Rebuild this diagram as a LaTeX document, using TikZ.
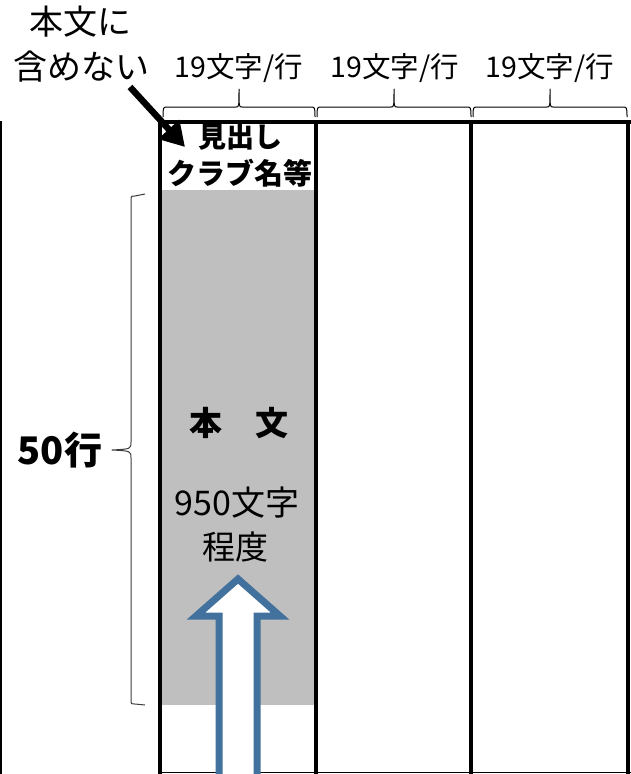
\documentclass[tikz,border=0pt]{standalone}
\usepackage{fontspec}
\setmainfont{Noto Sans CJK JP}
\usetikzlibrary{arrows.meta}
\definecolor{panelgray}{RGB}{191,191,191}
\definecolor{arrowblue}{RGB}{65,113,156}
\definecolor{bracegray}{RGB}{60,60,60}
\tikzset{
  lbl/.style={inner sep=0pt, anchor=center, font=\fontsize{#1}{#1}\selectfont},
  blbl/.style={inner sep=0pt, anchor=center, font=\fontsize{#1}{#1}\selectfont\bfseries},
  colline/.style={line width=4pt},
  thinline/.style={line width=1.5pt},
  bracepath/.style={line width=1pt, line join=round},
  pointer/.style={line width=6.5pt, -{Triangle[length=24pt,width=27pt]}},
  bigarrow/.style={draw=arrowblue, fill=white, line width=7pt, line join=miter}
}
\begin{document}
\begin{tikzpicture}[x=1pt,y=-1pt]
\useasboundingbox (0,0) rectangle (631,774);
% gray body region
\fill[panelgray] (160,190) rectangle (316,705);
% frame lines
\draw[thinline] (1,121) -- (1,776);
\draw[thinline] (160,772.5) -- (633,772.5);
\draw[colline] (158,122) -- (633,122);
\foreach \xx in {160,316,471,628} \draw[colline] (\xx,122) -- (\xx,776);
% top braces
\foreach \a/\b in {163/315,317/471,473/627}{
  \pgfmathsetmacro{\m}{(\a+\b)/2}
  \draw[bracepath] (\a,117) .. controls (\a,107) .. (\a+5,107) -- (\m-3,107)
     .. controls (\m,107) .. (\m,89) .. controls (\m,107) .. (\m+3,107)
     -- (\b-5,107) .. controls (\b,107) .. (\b,117);
}
% left brace
\draw[bracepath, draw=bracegray] (145,194) -- (135,196) .. controls (131,196) .. (131,201) -- (131,442)
   .. controls (131,449) .. (112,450) .. controls (131,451) .. (131,458) -- (131,699)
   .. controls (131,704) .. (135,704) -- (145,705);
% texts
\node[lbl=34] (excl1) at (80,22) {本文に};
\node[lbl=34] (excl2) at (81,67) {含めない};
\node[lbl=28.5] (cpl1) at (239,68) {19文字/行};
\node[lbl=28.5] (cpl2) at (395,68) {19文字/行};
\node[lbl=28.5] (cpl3) at (550,68) {19文字/行};
\node[blbl=28] (head1) at (240,137) {見出し};
\node[blbl=29] (head2) at (240,173) {クラブ名等};
\node[blbl=33] (body) at (239,423) {本　文};
\node[lbl=34] (cnt1) at (237,503) {950文字};
\node[lbl=33] (cnt2) at (235,547) {程度};
\node[blbl=38] (lines) at (60,450) {50行};
% pointer arrow
\coordinate (pstart) at (130,87);
\coordinate (pend) at (185,147);
\draw[pointer] (pstart) -- (pend);
% big blue arrow
\draw[bigarrow] (219,780) -- (219,616) -- (196,616) -- (238,579) -- (280,616) -- (257,616) -- (257,780);
\end{tikzpicture}
\end{document}
